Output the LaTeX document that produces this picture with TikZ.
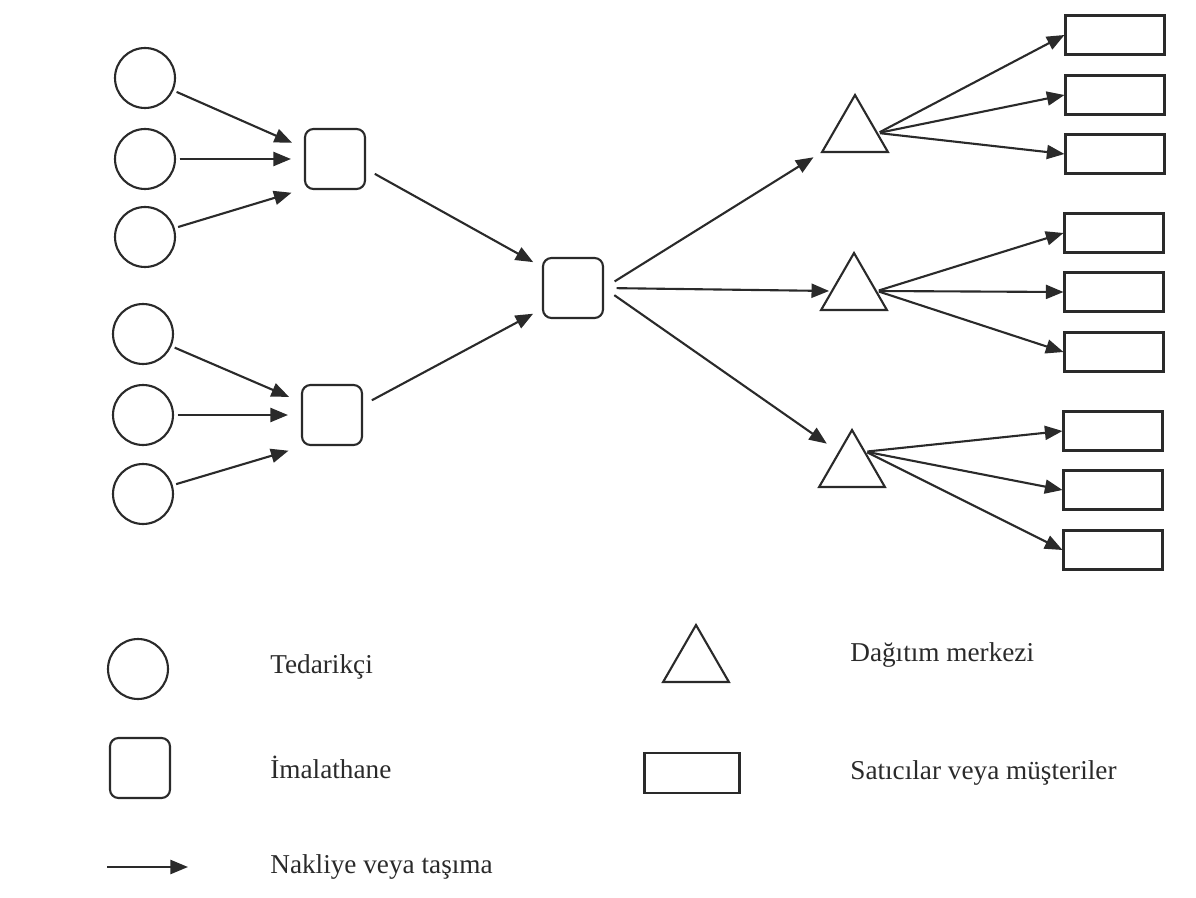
\documentclass[tikz,border=0pt]{standalone}
\usepackage{fontspec}
\setmainfont{Liberation Serif}
\usepackage{xcolor}
\usepackage{tikz}
\usetikzlibrary{shapes.geometric}
\usetikzlibrary{arrows.meta}
\definecolor{ink}{HTML}{2A2A2A}
\tikzset{
	supplier/.style={draw=ink,circle,line width=1.2pt,minimum size=1.2cm,inner sep=0pt},
	plant/.style={draw=ink,rectangle,rounded corners=0.17cm,line width=1.2pt,minimum size=1.2cm,inner sep=0pt},
	depot/.style={draw=ink,regular polygon,regular polygon sides=3,line width=1.2pt,minimum size=1.52cm,inner sep=0pt},
	shop/.style={draw=ink,rectangle,line width=1.2pt,minimum width=1.98cm,minimum height=0.78cm,inner sep=0pt},
	flow/.style={-{Triangle[length=10pt,width=8pt]},line width=1.2pt,draw=ink,fill=ink},
	legend/.style={anchor=west,inner sep=0pt,text=ink,font=\fontsize{15.5}{18}\selectfont}
}

\begin{document}
\begin{tikzpicture}[x=0.02cm,y=-0.02cm]
	\useasboundingbox (0,0) rectangle (1196,898);
	\node[supplier] (s1) at (145,78) {};
	\node[supplier] (s2) at (145,159) {};
	\node[supplier] (s3) at (145,237) {};
	\node[supplier] (s4) at (143,334) {};
	\node[supplier] (s5) at (143,415) {};
	\node[supplier] (s6) at (143,494) {};
	\node[plant] (m1) at (335,159) {};
	\node[plant] (m2) at (332,415) {};
	\node[plant] (c) at (573,288) {};
	\node[depot] (d1) at (855,133) {};
	\node[depot] (d2) at (854,291) {};
	\node[depot] (d3) at (852,468) {};
	\node[shop] (r1) at (1115,35) {};
	\node[shop] (r2) at (1115,95) {};
	\node[shop] (r3) at (1115,154) {};
	\node[shop] (r4) at (1114,233) {};
	\node[shop] (r5) at (1114,292) {};
	\node[shop] (r6) at (1114,352) {};
	\node[shop] (r7) at (1113,431) {};
	\node[shop] (r8) at (1113,490) {};
	\node[shop] (r9) at (1113,550) {};
	\draw[flow,shorten <=2pt,shorten >=0.26cm] (s1) -- ([yshift=0.22cm]m1.west);
	\draw[flow,shorten <=2pt,shorten >=0.26cm] (s2) -- (s2 -| m1.west);
	\draw[flow,shorten <=2pt,shorten >=0.26cm] (s3) -- ([yshift=-0.6cm]m1.west);
	\draw[flow,shorten <=2pt,shorten >=0.26cm] (s4) -- ([yshift=0.26cm]m2.west);
	\draw[flow,shorten <=2pt,shorten >=0.26cm] (s5) -- (s5 -| m2.west);
	\draw[flow,shorten <=2pt,shorten >=0.26cm] (s6) -- ([yshift=-0.64cm]m2.west);
	\draw[flow,shorten <=0.2cm,shorten >=0.2cm] ([yshift=-0.2cm]m1.east) -- ([yshift=0.42cm]c.west);
	\draw[flow,shorten <=0.2cm,shorten >=0.2cm] ([yshift=0.2cm]m2.east) -- ([yshift=-0.42cm]c.west);
	\draw[flow,shorten <=0.25cm,shorten >=0.16cm] (c.east) -- (d1.corner 2);
	\draw[flow,shorten <=0.25cm,shorten >=1pt] (c.east) -- (d2.180);
	\draw[flow,shorten <=0.25cm,shorten >=0.28cm] (c.east) -- (d3.130);
	\foreach \r in {r1,r2,r3}
		\draw[flow,shorten <=1pt] (d1.0) -- (\r.west);
	\foreach \r in {r4,r5,r6}
		\draw[flow,shorten <=1pt] (d2.0) -- (\r.west);
	\foreach \r in {r7,r8,r9}
		\draw[flow,shorten <=1pt] (d3.50) -- (\r.west);
	\node[supplier] (ls) at (138,669) {};
	\node[legend] (lst) at (270,667) {Tedarikçi};
	\node[plant] (lm) at (140,768) {};
	\node[legend] (lmt) at (270,767) {İmalathane};
	\coordinate (la) at (107,867);
	\coordinate (lb) at (188,867);
	\draw[flow] (la) -- (lb);
	\node[legend] (lat) at (270,867) {Nakliye veya taşıma};
	\node[depot] (ld) at (696,663) {};
	\node[legend] (ldt) at (850,655) {Dağıtım merkezi};
	\node[shop,minimum width=1.9cm,minimum height=0.8cm] (lr) at (692,773) {};
	\node[legend] (lrt) at (850,773) {Satıcılar veya müşteriler};
\end{tikzpicture}
\end{document}
